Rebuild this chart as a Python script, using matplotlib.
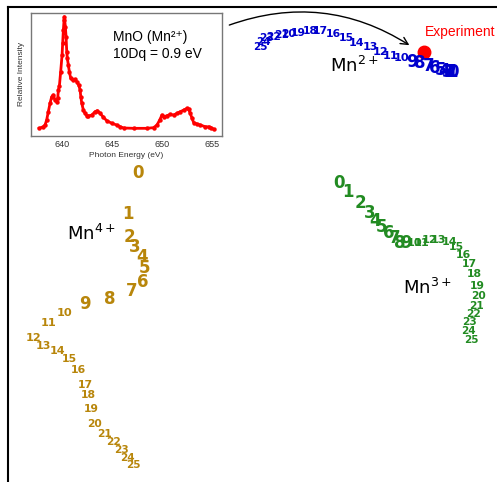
import matplotlib
matplotlib.use("Agg")
import matplotlib.pyplot as plt

# inset spectrum: MnO L-edge (photon energy, relative intensity)
energy = [637.68, 638.09, 638.26, 638.42, 638.59, 638.76, 638.93, 639.09, 639.26,
          639.43, 639.53, 639.60, 639.70, 639.83, 639.97, 640.03, 640.10, 640.17,
          640.20, 640.30, 640.37, 640.44, 640.50, 640.60, 640.70, 640.84, 641.04,
          641.28, 641.44, 641.64, 641.78, 641.85, 641.95, 642.11, 642.28, 642.45,
          642.62, 642.95, 643.29, 643.52, 643.79, 644.13, 644.46, 644.97, 645.47,
          645.81, 646.14, 647.15, 648.49, 649.16, 649.50, 649.77, 650.00, 650.23,
          650.50, 650.84, 651.17, 651.51, 651.85, 652.18, 652.52, 652.68, 652.85,
          653.02, 653.19, 653.52, 653.86, 654.36, 654.70, 654.93, 655.20]
intensity = [0.015, 0.03, 0.044, 0.088, 0.162, 0.235, 0.294, 0.309, 0.265,
             0.25, 0.279, 0.353, 0.388, 0.515, 0.662, 0.765, 0.882, 0.971,
             1.0, 0.912, 0.824, 0.691, 0.632, 0.574, 0.515, 0.456, 0.441,
             0.447, 0.426, 0.397, 0.353, 0.294, 0.235, 0.176, 0.147, 0.126,
             0.124, 0.132, 0.162, 0.171, 0.147, 0.112, 0.082, 0.059, 0.044,
             0.029, 0.018, 0.015, 0.015, 0.021, 0.044, 0.088, 0.132, 0.118,
             0.126, 0.138, 0.132, 0.147, 0.162, 0.176, 0.191, 0.182, 0.147,
             0.103, 0.065, 0.053, 0.044, 0.029, 0.029, 0.021, 0.006]

# embedding positions of the labelled points (0..25) for each oxidation state
mn2_x = [452.7, 451.7, 450.0, 447.3, 444.0, 440.0, 435.0, 428.3, 419.3, 411.7,
         401.7, 391.0, 380.7, 370.0, 356.7, 346.0, 333.3, 320.0, 310.0, 298.3,
         288.3, 281.7, 273.3, 266.7, 263.3, 260.0]
mn2_y = [71.7, 71.7, 71.7, 71.7, 70.7, 70.0, 68.3, 65.7, 63.3, 61.7,
         58.3, 56.0, 51.7, 46.7, 42.7, 37.7, 34.0, 31.0, 31.0, 32.7,
         34.0, 35.0, 36.7, 38.3, 41.7, 46.7]
mn3_x = [339.3, 348.3, 360.0, 369.3, 375.0, 381.7, 388.3, 395.0, 400.0, 406.0,
         415.0, 421.7, 430.0, 438.3, 449.3, 456.7, 463.3, 469.3, 474.0, 477.3,
         478.3, 476.7, 473.3, 469.3, 468.3, 471.7]
mn3_y = [182.7, 191.7, 203.3, 213.3, 221.0, 226.7, 232.7, 238.3, 243.3, 243.3,
         243.3, 242.7, 240.0, 240.0, 241.7, 247.3, 255.0, 264.0, 274.3, 285.7,
         296.0, 305.7, 314.0, 322.3, 330.7, 340.0]
mn4_x = [137.7, 127.7, 129.3, 135.0, 141.7, 145.0, 142.7, 131.7, 110.0, 85.0,
         64.3, 48.3, 33.3, 43.3, 57.7, 69.3, 78.3, 85.0, 88.7, 91.7,
         94.7, 104.0, 113.3, 121.3, 127.3, 133.3]
mn4_y = [172.7, 214.3, 236.7, 247.3, 256.7, 268.3, 281.7, 291.0, 299.0, 304.3,
         312.7, 322.7, 338.3, 345.7, 351.0, 359.3, 369.7, 384.7, 395.3, 409.3,
         424.0, 434.0, 442.0, 450.0, 457.7, 465.3]

series_names = [r"$\mathrm{Mn}^{2+}$", r"$\mathrm{Mn}^{3+}$", r"$\mathrm{Mn}^{4+}$"]
name_x = [354, 427, 91]
name_y = [66, 288, 234]
exp_x, exp_y = 424.3, 51.7

fig = plt.figure(figsize=(4.97, 4.82), dpi=100)

ax = fig.add_axes([7.8 / 497, -0.2, 1.2, 1.2 - 7 / 482])
ax.set_xlim(7.8, 7.8 + 1.2 * 497)
ax.set_ylim(482 + 0.2 * 482, 7)
ax.set_xticks([])
ax.set_yticks([])
for s in ax.spines.values():
    s.set_linewidth(1.5)

colors = ["mediumblue", "forestgreen", "darkgoldenrod"]
for xs, ys, c in zip([mn2_x, mn3_x, mn4_x], [mn2_y, mn3_y, mn4_y], colors):
    for i, (x, y) in enumerate(zip(xs, ys)):
        fs = 12 if i < 10 else 8.2 - 0.05 * (i - 10)
        ax.text(x, y, str(i), color=c, fontsize=fs, fontweight="bold",
                ha="center", va="center")

for name, x, y in zip(series_names, name_x, name_y):
    ax.text(x, y, name, fontsize=13, ha="center", va="center")

ax.plot([exp_x], [exp_y], "o", color="red", ms=9)
ax.text(460, 31.7, "Experiment", color="red", fontsize=10,
        family="Liberation Sans", ha="center", va="center")
ax.annotate("", xy=(411.7, 46.7), xytext=(226.7, 26),
            arrowprops=dict(arrowstyle="->", color="black", lw=1,
                            mutation_scale=13,
                            connectionstyle="arc3,rad=-0.25"))

# inset spectrum
ins = fig.add_axes([31 / 497, 1 - 135.7 / 482, 190.7 / 497, 123 / 482])
ins.plot(energy, intensity, "-", color="red", lw=2.0)
ins.plot(energy, intensity, "o", color="red", ms=3.2, mec="none")
ins.set_xlim(636.85, 656.0)
ins.set_ylim(-0.05, 1.035)
ins.set_xticks([640, 645, 650, 655])
ins.set_yticks([])
ins.tick_params(axis="x", length=0, labelsize=6.5, pad=3, colors="#333333")
for lab in ins.get_xticklabels():
    lab.set_family("Liberation Sans")
for s in ins.spines.values():
    s.set_color("#777777")
    s.set_linewidth(1)
ins.set_xlabel("Photon Energy (eV)", fontsize=6, family="Liberation Sans",
               labelpad=2, color="#333333")
ins.set_ylabel("Relative Intensity", fontsize=6, family="Liberation Sans",
               labelpad=4, color="#333333")
ins.text(0.43, 0.8, "MnO (Mn²⁺)", transform=ins.transAxes, fontsize=10,
         family=["Liberation Sans", "DejaVu Sans"], va="center")
ins.text(0.43, 0.665, "10Dq = 0.9 eV", transform=ins.transAxes, fontsize=10,
         family="Liberation Sans", va="center")

fig.savefig("out.png", dpi=100)
